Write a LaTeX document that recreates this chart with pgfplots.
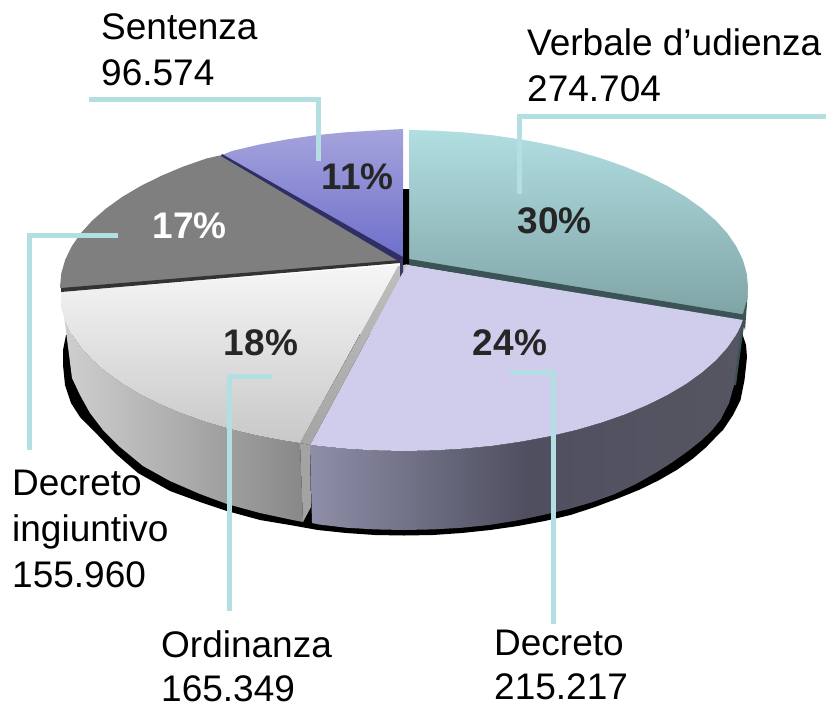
\documentclass[border=0pt]{standalone}
\usepackage{pgfplots}
\pgfplotsset{compat=1.18}
\usepackage{fontspec}
\setmainfont{Liberation Sans}
\definecolor{leader}{HTML}{B4DFE2}
\definecolor{ink}{HTML}{262626}
\definecolor{wallA}{HTML}{8E8EA8}
\definecolor{wallB}{HTML}{4F4F60}
\definecolor{wallC}{HTML}{565662}
\definecolor{greyA}{HTML}{D0D0D0}
\definecolor{greyB}{HTML}{888888}
\definecolor{strip}{HTML}{A3A3A3}
\definecolor{dteal}{HTML}{3B5355}
\definecolor{tealA}{HTML}{B1DEE1}
\definecolor{tealB}{HTML}{7FA4A6}
\definecolor{lav}{HTML}{CFCDEB}
\definecolor{bandA}{HTML}{BEBEBE}
\definecolor{bandB}{HTML}{A5A5A5}
\definecolor{whA}{HTML}{F6F6F6}
\definecolor{whB}{HTML}{C8C8C8}
\definecolor{midgrey}{HTML}{7F7F7F}
\definecolor{dgrey}{HTML}{333333}
\definecolor{purA}{HTML}{A5A3DC}
\definecolor{purB}{HTML}{6D6ECB}
\definecolor{dpur}{HTML}{2F2F66}
\definecolor{dpurb}{HTML}{3A3A6A}
\tikzset{
  lab/.style={anchor=north west, inner sep=0pt, align=left, text=black, font=\fontsize{37}{46.2}\selectfont},
  labb/.style={anchor=north west, inner sep=0pt, align=left, text=black, font=\fontsize{37}{44}\selectfont},
  pct/.style={anchor=center, inner sep=0pt, font=\fontsize{37}{44}\selectfont\bfseries},
}
\begin{document}
\begin{tikzpicture}
\begin{axis}[
  scale only axis, width=826pt, height=704pt,
  xmin=0, xmax=826, ymin=0, ymax=704, y dir=reverse,
  hide axis, clip=true,
  every axis plot/.append style={forget plot, no markers},
]
\path (axis cs:0,0) rectangle (axis cs:826,704);
% black shadow
\addplot[fill=black, draw=none] coordinates {
(742,333)(746,345)(747,357)(744.5,380)(740.5,400)(733,415)(723,430)(716.9,436)(705.8,447.5)(692.4,459)(676.8,469.9)(659.1,480.1)(639.5,489.7)(618,498.4)(595,507)(570.5,515)(544.7,521)(517.9,526)(490.2,530)(461.8,533)(433,535)(404,535.5)(375,535)(346.2,533)(317.8,530)(290,525)(260,520)(227,511)(200,502)(170,491)(138,473)(115,453)(93,430)(80,417)(71,403)(65,385)(63,365)(63,350)(66,335)
} -- cycle;
% Decreto wall
\addplot[left color=wallA, right color=wallC, middle color=wallB, draw=none] coordinates {
(743,321)(736.3,334.6)(727.3,347.7)(715.8,360.4)(701.9,372.5)(685.8,384.1)(667.5,394.9)(647.2,405)(625.1,414.3)(601.3,422.6)(576,430)(549.4,436.3)(521.6,441.5)(493,445.7)(463.7,448.6)(434,450.4)(404,451)(374,450.4)(344.3,448.6)(310,445)
(312,523)(319.1,524.5)(347,527.8)(375.4,529.4)(404,530)(432.6,529.4)(461,527.8)(488.9,525)(516.2,520.6)(542.6,515.1)(568,509.2)(592.1,502.2)(614.8,494)(635.9,484)(655.3,473)(672.7,462)(688,451)(701.3,440.5)(712.2,430)(720.8,419.3)(729,403)(735,382)
} -- cycle;
% Ordinanza wall
\addplot[left color=greyA, right color=greyB, draw=none] coordinates {
(61,292)(61.3,306.7)(65.2,320.3)(71.6,333.6)(80.5,346.7)(91.9,359.4)(105.6,371.5)(121.5,383.1)(139.5,393.9)(159.6,404)(181.5,413.3)(205,421.6)(230,429)(256.3,435.3)(283.7,440.5)(295,442.3)(300,443)
(303,522)(288,519)(260,513)(227,504)(200,494)(170,481)(143,466)(120,447)(103,430)(90,413)(80,395)(72,378)
} -- cycle;
% strip between walls
\addplot[fill=strip, draw=none] coordinates {(300,443)(310,445)(311,507)(303,522)} -- cycle;
% dark sliver at right
\addplot[fill=dteal, draw=none] coordinates {(745,318)(736,385)(734,385)(742,320)} -- cycle;
% Verbale top
\addplot[top color=tealA, bottom color=tealB, draw=none] coordinates {
(409,130)(434,130.6)(463.7,132.4)(493,135.3)(521.6,139.5)(549.4,144.7)(576,151)(601.3,158.4)(625.1,166.7)(647.2,176)(667.5,186.1)(685.8,196.9)(701.9,208.5)(715.8,220.6)(727.3,233.3)(736.3,246.4)(742.8,259.7)(746.7,273.3)(748,287)(746.7,300.7)(742.8,315)(409,260)
} -- cycle;
% Verbale dark side
\addplot[fill=dteal, draw=none] coordinates {(748,290)(745,330)(742,321)(407,265)(409,259)(742.8,314.3)(746.7,300.7)} -- cycle;
% Decreto top
\addplot[fill=lav, draw=none] coordinates {
(407,265)(742.8,320)(736.3,334.6)(727.3,347.7)(715.8,360.4)(701.9,372.5)(685.8,384.1)(667.5,394.9)(647.2,405)(625.1,414.3)(601.3,422.6)(576,430)(549.4,436.3)(521.6,441.5)(493,445.7)(463.7,448.6)(434,450.4)(404,451)(374,450.4)(344.3,448.6)(310,445)
} -- cycle;
% inner grey band
\addplot[top color=bandA, bottom color=bandB, draw=none] coordinates {(398,266)(407,265)(310,445)(300,443)} -- cycle;
% Ordinanza top
\addplot[top color=whA, bottom color=whB, draw=none] coordinates {
(398,265)(61,292)(61.3,306.7)(65.2,320.3)(71.6,333.6)(80.5,346.7)(91.9,359.4)(105.6,371.5)(121.5,383.1)(139.5,393.9)(159.6,404)(181.5,413.3)(205,421.6)(230,429)(256.3,435.3)(283.7,440.5)(295,442.3)(300,443)
} -- cycle;
% Decreto ingiuntivo top
\addplot[fill=midgrey, draw=none] coordinates {
(222,155)(206.7,158.4)(182.9,166.7)(160.8,176)(140.5,186.1)(122.2,196.9)(106.1,208.5)(92.2,220.6)(80.7,233.3)(71.7,246.4)(65.2,259.7)(61.3,273.3)(60,287)(62,290)(402,261)
} -- cycle;
% dark band under grey
\addplot[fill=dgrey, draw=none] coordinates {(61,288)(400,260)(400,263)(61,292)} -- cycle;
% Sentenza top
\addplot[top color=purA, bottom color=purB, draw=none] coordinates {
(403,129)(374,130.6)(344.3,132.4)(315,135.3)(286.4,139.5)(258.6,144.7)(232,151)(222,155)(403,260)
} -- cycle;
% dark band under Sentenza
\addplot[fill=dpur, draw=none] coordinates {(222,154)(403,257)(403,262)(400,262)(221,156)} -- cycle;
\addplot[fill=dpurb, draw=none] coordinates {(400,260)(403,258)(403,272)(400,277)} -- cycle;
% inner black side
\addplot[fill=black, draw=none] coordinates {(403,189)(409,189)(409,264)(403,265)} -- cycle;
% leaders
\addplot[color=leader, line width=5pt] coordinates {(89,99)(318,99)(318,161)};
\addplot[color=leader, line width=5pt] coordinates {(826,116)(519,116)(519,194)};
\addplot[color=leader, line width=5pt] coordinates {(29,450)(29,235)(118,235)};
\addplot[color=leader, line width=5pt] coordinates {(229,611)(229,376)(272,376)};
\addplot[color=leader, line width=5pt] coordinates {(553,624)(553,372)(510,372)};
% labels
\node[lab] at (axis cs:101,13.5) {Sentenza\\96.574};
\node[lab] at (axis cs:527,28.5) {Verbale d’udienza\\274.704};
\node[lab] at (axis cs:12,469.5) {Decreto\\ingiuntivo\\155.960};
\node[labb,overlay] at (axis cs:161,630) {Ordinanza\\165.349};
\node[labb,overlay] at (axis cs:494,630) {Decreto\\215.217};
\node[pct, text=ink] at (axis cs:554.5,221) {30\%};
\node[pct, text=ink] at (axis cs:510,343) {24\%};
\node[pct, text=ink] at (axis cs:261,343) {18\%};
\node[pct, text=white] at (axis cs:189.5,226) {17\%};
\node[pct, text=ink] at (axis cs:357.5,177) {11\%};
\end{axis}
\end{tikzpicture}
\end{document}
